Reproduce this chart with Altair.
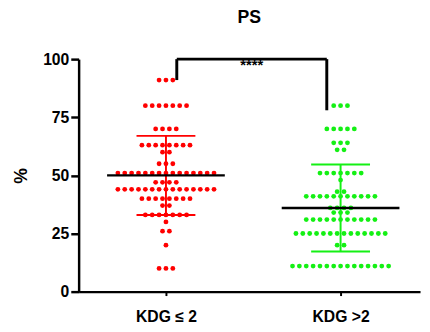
import altair as alt
import pandas as pd

# ---- data ----
groups = ["KDG ≤ 2", "KDG >2"]
colors = ["#ff0000", "#14f014"]

red_values = [91, 80, 70, 63, 60, 55, 51, 47, 44, 40, 37, 33, 30, 26, 20, 10]
red_counts = [3, 7, 4, 8, 2, 3, 15, 4, 15, 8, 2, 7, 1, 2, 1, 3]

green_values = [80, 70, 64, 61, 51, 48, 43, 41, 36, 34, 31, 25, 20, 11]
green_counts = [3, 5, 3, 2, 7, 1, 2, 11, 4, 3, 11, 14, 2, 15]

means = [50, 36]
sds = [17, 18.7]

sig_text = "****"
bracket_top = 100
bracket_legs = [91, 78]

# ---- layout constants ----
PX_PER_UNIT = 178.0
DOT_STEP = 7.0 / PX_PER_UNIT
MEAN_HALF = 60.0 / PX_PER_UNIT
CAP_HALF = 30.0 / PX_PER_UNIT
LEG_X = [1.062, 1.921]

rows = []
for gi, (vals, cnts) in enumerate([(red_values, red_counts), (green_values, green_counts)]):
    for v, n in zip(vals, cnts):
        for i in range(n):
            rows.append({"g": groups[gi], "x": gi + 1 + (i - (n - 1) / 2) * DOT_STEP, "y": v})
dots = pd.DataFrame(rows)

summ = pd.DataFrame({
    "g": groups,
    "xc": [1, 2],
    "m": means,
    "lo": [m - s for m, s in zip(means, sds)],
    "hi": [m + s for m, s in zip(means, sds)],
})
summ["mx1"] = summ["xc"] - MEAN_HALF
summ["mx2"] = summ["xc"] + MEAN_HALF
summ["cx1"] = summ["xc"] - CAP_HALF
summ["cx2"] = summ["xc"] + CAP_HALF

xscale = alt.Scale(domain=[0.5, 2.455], nice=False, zero=False)
yscale = alt.Scale(domain=[0, 100], nice=False)
xaxis = alt.Axis(values=[1, 2], labelExpr="datum.value == 1 ? 'KDG ≤ 2' : 'KDG >2'",
                 title=None, grid=False, tickSize=4, tickWidth=2, labelPadding=13,
                 labelFontSize=16, labelFont="Liberation Sans", labelFontWeight="bold",
                 labelColor="black", domainColor="black", domainWidth=2.5, tickColor="black")
yaxis = alt.Axis(values=[0, 25, 50, 75, 100], title="%", grid=False, tickSize=8, tickWidth=2.5,
                 labelPadding=2, labelFontSize=16, labelFont="Liberation Sans", labelFontWeight="bold",
                 labelColor="black", domainColor="black", domainWidth=2.5, tickColor="black",
                 titleFontSize=18, titleFont="Liberation Sans", titleFontWeight="bold",
                 titleColor="black", titlePadding=12)

def X(f):
    return alt.X(f, type="quantitative", scale=xscale, axis=xaxis)

def Y(f):
    return alt.Y(f, type="quantitative", scale=yscale, axis=yaxis)

color = alt.Color("g:N", scale=alt.Scale(domain=groups, range=colors), legend=None)

pts = alt.Chart(dots).mark_circle(size=24, opacity=1).encode(x=X("x"), y=Y("y"), color=color)

sd_v = alt.Chart(summ).mark_rule(strokeWidth=2).encode(x=X("xc"), y=Y("lo"), y2="hi", color=color)
cap_hi = alt.Chart(summ).mark_rule(strokeWidth=2).encode(x=X("cx1"), x2="cx2", y=Y("hi"), color=color)
cap_lo = alt.Chart(summ).mark_rule(strokeWidth=2).encode(x=X("cx1"), x2="cx2", y=Y("lo"), color=color)
mean_l = alt.Chart(summ).mark_rule(strokeWidth=2.5, color="black").encode(x=X("mx1"), x2="mx2", y=Y("m"))

br = pd.DataFrame({"x": LEG_X, "top": [bracket_top] * 2, "leg": bracket_legs})
br_legs = alt.Chart(br).mark_rule(strokeWidth=3, color="black").encode(x=X("x"), y=Y("leg"), y2="top")
br_top = alt.Chart(pd.DataFrame({"x1": [LEG_X[0]], "x2": [LEG_X[1]], "t": [bracket_top]})).mark_rule(
    strokeWidth=3, color="black").encode(x=X("x1"), x2="x2", y=Y("t"))
star = alt.Chart(pd.DataFrame({"x": [(LEG_X[0] + LEG_X[1]) / 2], "t": [bracket_top], "s": [sig_text]})).mark_text(
    baseline="top", fontSize=15, fontWeight="bold", font="Liberation Sans", color="black", dy=-1).encode(
    x=X("x"), y=Y("t"), text="s:N")

chart = alt.layer(pts, sd_v, cap_hi, cap_lo, mean_l, br_legs, br_top, star).properties(
    width=348, height=237,
    title=alt.TitleParams("PS", fontSize=18, font="Liberation Sans", fontWeight="bold", color="black", offset=25),
    autosize=alt.AutoSizeParams(type="none"),
    padding={"left": 72, "top": 49, "right": 2, "bottom": 37},
).configure_view(stroke=None)

chart.save("out.html", embed_options={"renderer": "svg", "actions": False})
